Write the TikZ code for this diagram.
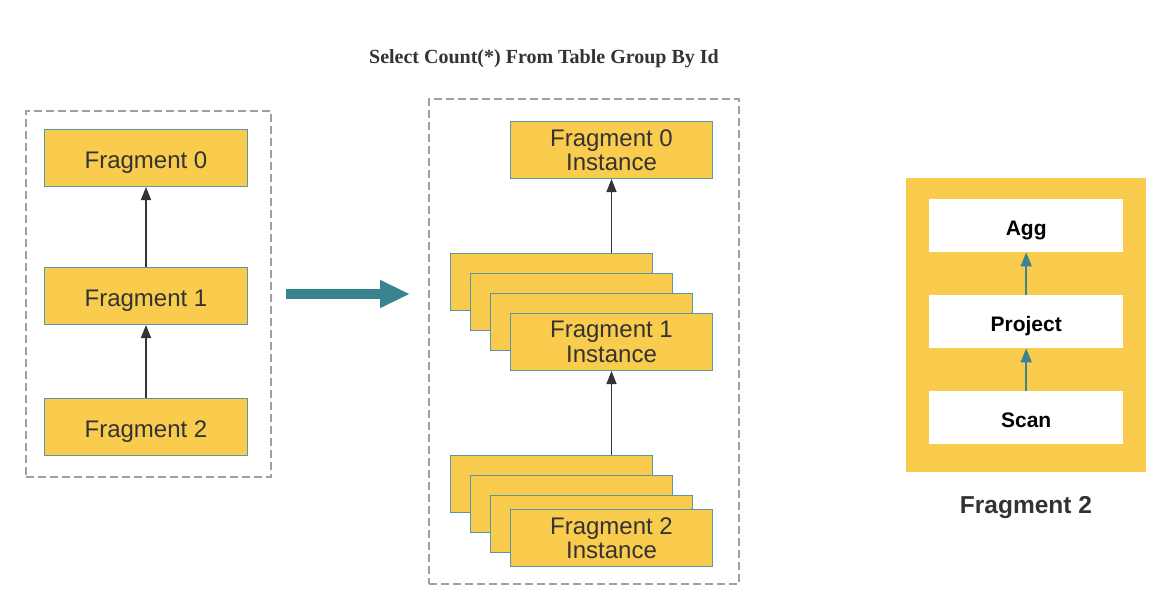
\documentclass[tikz,border=0pt]{standalone}
\usepackage{fontspec}
\setmainfont{Liberation Sans}
\newfontfamily\titlefont{Liberation Serif}
\usetikzlibrary{arrows.meta}
\definecolor{fragfill}{RGB}{250,204,77}
\definecolor{fragline}{RGB}{90,150,165}
\definecolor{teal}{RGB}{58,132,145}
\definecolor{txt}{RGB}{51,51,51}
\definecolor{dashc}{RGB}{160,160,160}
\tikzset{
  frag/.style={draw=fragline, fill=fragfill, line width=1pt, inner sep=0pt,
    anchor=north west, minimum width=#1, minimum height=57pt, text=txt,
    align=center, font=\fontsize{24}{24.4}\selectfont},
  frag/.default=202pt,
  fragone/.style={frag=#1, text height=20.6pt, text depth=0pt},
  fragone/.default=203pt,
  panel/.style={draw=dashc, dash pattern=on 8pt off 4pt, line width=1.5pt,
    anchor=north west, inner sep=0pt},
  link/.style={draw=txt, line width=1.5pt, -{Triangle[length=13pt,width=10pt]}},
  oplink/.style={draw=teal, line width=1.8pt, -{Triangle[length=14pt,width=11pt]}},
  opbox/.style={fill=white, anchor=north west, inner sep=0pt, minimum width=194pt,
    minimum height=53pt, text height=19pt, text depth=0pt,
    font=\bfseries\fontsize{21}{24}\selectfont},
  bigarrow/.style={draw=teal, line width=10pt, -{Triangle[length=30pt,width=26pt]}}
}
\begin{document}
\begin{tikzpicture}[x=1pt,y=-1pt]
\useasboundingbox (0,0) rectangle (1170,610);
% title
\node[anchor=base, inner sep=0pt, text=txt, font=\titlefont\bfseries\fontsize{20}{22}\selectfont] (title) at (544,63.5) {Select Count(*) From Table Group By Id};
% left panel
\node[panel, minimum width=245pt, minimum height=366pt] (lp) at (25,110) {};
\node[fragone] (f0) at (44,129) {Fragment 0};
\node[fragone] (f1) at (44,267) {Fragment 1};
\node[fragone] (f2) at (44,398) {Fragment 2};
\draw[link] (f1.north) -- (f0.south);
\draw[link] (f2.north) -- (f1.south);
% big arrow
\coordinate (ba1) at (286,294);
\coordinate (ba2) at (410,294);
\draw[bigarrow] (ba1) -- (ba2);
% middle panel
\node[panel, minimum width=310pt, minimum height=485pt] (mp) at (428,98) {};
\node[frag] (m0) at (510,121) {Fragment 0\\Instance};
\node[frag] (s1a) at (450,253) {};
\node[frag] (s1b) at (470,273) {};
\node[frag] (s1c) at (490,293) {};
\node[frag] (s1d) at (510,313) {Fragment 1\\Instance};
\node[frag] (s2a) at (450,455) {};
\node[frag] (s2b) at (470,475) {};
\node[frag] (s2c) at (490,495) {};
\node[frag] (s2d) at (510,509) {Fragment 2\\Instance};
\draw[link] (m0.south |- s1a.north) -- (m0.south);
\draw[link] (s1d.south |- s2a.north) -- (s1d.south);
% right panel
\node[fill=fragfill, anchor=north west, inner sep=0pt, minimum width=240pt, minimum height=294pt] (rp) at (906,178) {};
\node[opbox] (agg) at (929,199) {Agg};
\node[opbox] (proj) at (929,295) {Project};
\node[opbox] (scan) at (929,391) {Scan};
\draw[oplink] (proj.north) -- (agg.south);
\draw[oplink] (scan.north) -- (proj.south);
\node[anchor=base, inner sep=0pt, text=txt, font=\bfseries\fontsize{24.5}{26}\selectfont] (rlabel) at (1026,513.3) {Fragment 2};
\end{tikzpicture}
\end{document}
